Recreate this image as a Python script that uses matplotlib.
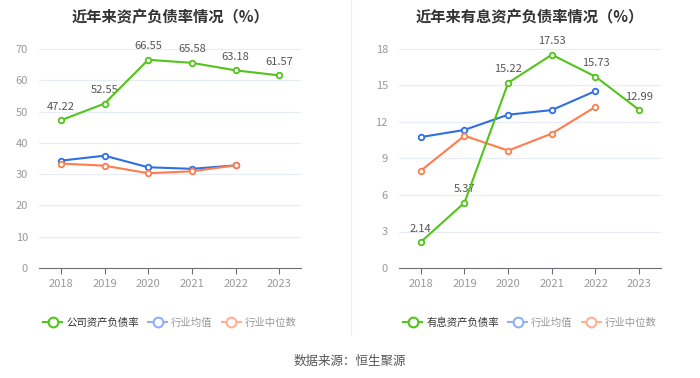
import matplotlib
matplotlib.use("Agg")
import matplotlib.pyplot as plt
from matplotlib.lines import Line2D

plt.rcParams['font.family'] = ['Noto Sans CJK SC', 'DejaVu Sans']

years = ['2018', '2019', '2020', '2021', '2022', '2023']

# left: 资产负债率
debt_company = [47.22, 52.55, 66.55, 65.58, 63.18, 61.57]
debt_avg = [34.3, 35.9, 32.2, 31.7, 32.8]
debt_median = [33.4, 32.7, 30.3, 30.9, 32.8]

# right: 有息资产负债率
ib_company = [2.14, 5.37, 15.22, 17.53, 15.73, 12.99]
ib_avg = [10.76, 11.35, 12.6, 12.98, 14.55]
ib_median = [8.0, 10.87, 9.65, 11.05, 13.25]

green = '#52c41a'
blue = '#2f6fe4'
orange = '#ff7d4d'
green_l = '#52c41a'
blue_l = '#8fb0f5'
orange_l = '#ffb095'

fig = plt.figure(figsize=(7, 3.78), dpi=100)

def draw(ax, comp, avg, med, ymax, step, title, label):
    x = list(range(len(years)))
    ax.plot(x[:len(avg)], avg, color=blue, lw=1.5, marker='o', ms=4,
            mfc='white', mew=1.3, zorder=3)
    ax.plot(x[:len(med)], med, color=orange, lw=1.5, marker='o', ms=4,
            mfc='white', mew=1.3, zorder=3)
    ax.plot(x, comp, color=green, lw=1.5, marker='o', ms=4,
            mfc='white', mew=1.3, zorder=4)
    for xi, v in zip(x, comp):
        ax.annotate(f'{v:.2f}', (xi, v), xytext=(0, 6), textcoords='offset points',
                    ha='center', va='bottom', fontsize=8, color='#555555')
    ax.set_xlim(-0.5, 5.5)
    ax.set_ylim(0, ymax)
    ax.set_yticks(range(0, ymax + 1, step))
    ax.set_xticks(x)
    ax.set_xticklabels(years)
    ax.grid(axis='y', color='#e6ebf5', lw=0.8)
    ax.set_axisbelow(True)
    for s in ['top', 'right', 'left']:
        ax.spines[s].set_visible(False)
    ax.spines['bottom'].set_color('#6e7079')
    ax.tick_params(axis='y', length=0, labelsize=8, colors='#999999', pad=8)
    ax.tick_params(axis='x', length=4, color='#6e7079', labelsize=8,
                   labelcolor='#999999', pad=4)
    ax.set_title(title, fontsize=11, fontweight='bold', color='#333333', pad=0,
                 y=1.0 + 27 / 219)
    handles = [
        Line2D([], [], color=green_l, lw=1.5, marker='o', ms=7, mfc='white', mew=1.5),
        Line2D([], [], color=blue_l, lw=1.5, marker='o', ms=7, mfc='white', mew=1.5),
        Line2D([], [], color=orange_l, lw=1.5, marker='o', ms=7, mfc='white', mew=1.5),
    ]
    leg = ax.legend(handles, [label, '行业均值', '行业中位数'], loc='center',
                    bbox_to_anchor=(0.5, -0.25), ncol=3, frameon=False,
                    fontsize=7.5, handlelength=1.8, handletextpad=0.4,
                    columnspacing=0.9)
    cols = ['#333333', '#999999', '#999999']
    for t, c in zip(leg.get_texts(), cols):
        t.set_color(c)

ax1 = fig.add_axes([39 / 700, 1 - 268 / 378, 262 / 700, 219 / 378])
draw(ax1, debt_company, debt_avg, debt_median, 70, 10,
     '近年来资产负债率情况（%）', '公司资产负债率')

ax2 = fig.add_axes([399 / 700, 1 - 268 / 378, 262 / 700, 219 / 378])
draw(ax2, ib_company, ib_avg, ib_median, 18, 3,
     '近年来有息资产负债率情况（%）', '有息资产负债率')

fig.add_artist(Line2D([351 / 700, 351 / 700], [1 - 335 / 378, 1], color='#eeeeee', lw=0.8))
fig.text(0.5, 1 - 361 / 378, '数据来源：恒生聚源', ha='center', va='center',
         fontsize=9, color='#555555')

fig.savefig('out.png', dpi=100)
